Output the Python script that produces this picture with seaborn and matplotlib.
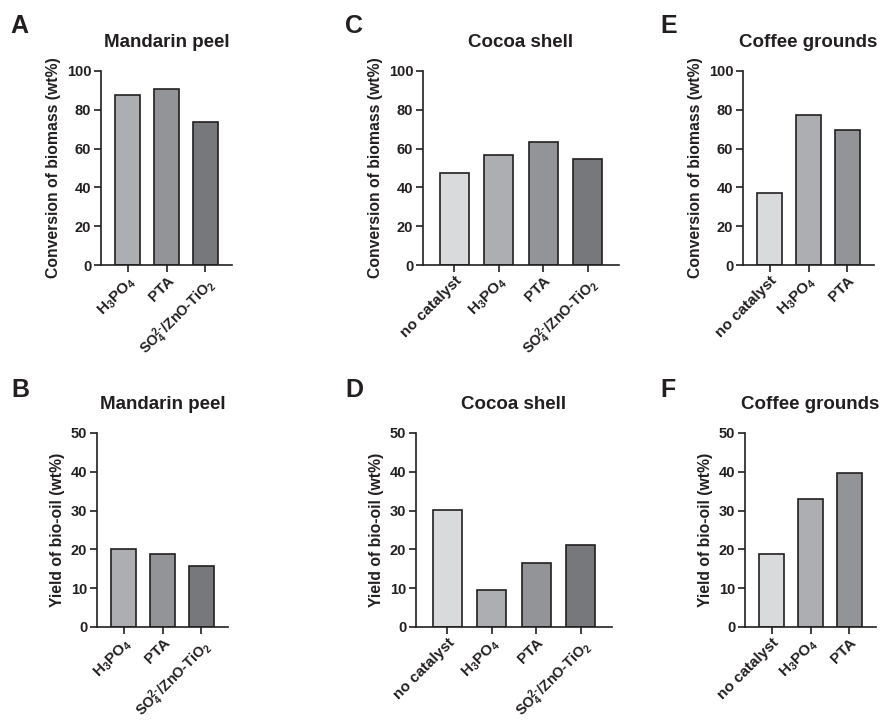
"""Biomass conversion and bio-oil yield by catalyst, six bar panels."""

import matplotlib
matplotlib.use("Agg")
import matplotlib.pyplot as plt
import seaborn as sns

# --- data ---
mandarin_cats = ["H3PO4", "PTA", "SO4/ZnO-TiO2"]
mandarin_conversion = [87.6, 90.5, 73.5]
mandarin_yield = [20.2, 18.7, 15.8]

cocoa_cats = ["no catalyst", "H3PO4", "PTA", "SO4/ZnO-TiO2"]
cocoa_conversion = [47.6, 56.9, 63.6, 54.5]
cocoa_yield = [30.1, 9.6, 16.5, 21.2]

coffee_cats = ["no catalyst", "H3PO4", "PTA"]
coffee_conversion = [37.3, 77.3, 69.7]
coffee_yield = [18.8, 33.1, 39.8]

tick_text = {
    "no catalyst": "no catalyst",
    "H3PO4": r"H$_3$PO$_4$",
    "PTA": "PTA",
    "SO4/ZnO-TiO2": r"SO$_4^{2\text{-}}$/ZnO-TiO$_2$",
}
bar_colors = {
    "no catalyst": "#d9dadc",
    "H3PO4": "#adaeb1",
    "PTA": "#939498",
    "SO4/ZnO-TiO2": "#77787c",
}

INK = "#231f20"
W, H = 880, 721

sns.set_theme(style="ticks")
plt.rcParams["font.family"] = ["Liberation Sans", "DejaVu Sans"]
plt.rcParams["font.weight"] = "bold"
plt.rcParams["mathtext.fontset"] = "custom"
plt.rcParams["mathtext.rm"] = "Liberation Sans"
plt.rcParams["mathtext.default"] = "rm"
plt.rcParams["text.color"] = INK
plt.rcParams["axes.labelcolor"] = INK
plt.rcParams["xtick.color"] = INK
plt.rcParams["ytick.color"] = INK

fig = plt.figure(figsize=(W / 100, H / 100), dpi=100)


def px_axes(left, right, top, bottom):
    return fig.add_axes([left / W, 1 - bottom / H, (right - left) / W, (bottom - top) / H])


def panel(ax, cats, values, title, ylabel, ymax, step):
    sns.barplot(x=cats, y=values, hue=cats, palette=bar_colors, legend=False,
                width=0.65, edgecolor=INK, linewidth=1.2, saturation=1, ax=ax)
    ax.set_xlim(-0.7, len(cats) - 0.3)
    ax.set_ylim(0, ymax)
    ax.set_yticks(range(0, ymax + 1, step))
    ax.set_xticks(range(len(cats)))
    ax.set_xticklabels([tick_text[c] for c in cats], rotation=45, ha="right",
                       rotation_mode="anchor", fontsize=11, fontweight="bold")
    # the long mixed-catalyst label would run off the bottom edge otherwise
    for lab, c in zip(ax.get_xticklabels(), cats):
        if c == "SO4/ZnO-TiO2":
            lab.set_fontsize(10.4)
    for lab in ax.get_yticklabels():
        lab.set_fontsize(10.5)
        lab.set_fontweight("bold")
    ax.tick_params(axis="y", width=1.2, length=5, pad=2)
    ax.tick_params(axis="x", width=1.2, length=5, pad=1.5)
    ax.set_title(title, fontsize=13.5, fontweight="bold", pad=17)
    ax.set_ylabel(ylabel, fontsize=11.3, fontweight="bold", labelpad=4)
    ax.set_xlabel("")
    sns.despine(ax=ax)
    for side in ("left", "bottom"):
        ax.spines[side].set_linewidth(1.2)
        ax.spines[side].set_color(INK)


conv_label = "Conversion of biomass (wt%)"
yield_label = "Yield of bio-oil (wt%)"

ax_a = px_axes(101, 232, 71, 265)
panel(ax_a, mandarin_cats, mandarin_conversion, "Mandarin peel", conv_label, 100, 20)
ax_c = px_axes(423, 619, 71, 265)
panel(ax_c, cocoa_cats, cocoa_conversion, "Cocoa shell", conv_label, 100, 20)
ax_e = px_axes(743, 874, 71, 265)
panel(ax_e, coffee_cats, coffee_conversion, "Coffee grounds", conv_label, 100, 20)

ax_b = px_axes(97, 228, 433, 627)
panel(ax_b, mandarin_cats, mandarin_yield, "Mandarin peel", yield_label, 50, 10)
ax_d = px_axes(416, 612, 433, 627)
panel(ax_d, cocoa_cats, cocoa_yield, "Cocoa shell", yield_label, 50, 10)
ax_f = px_axes(745, 876, 433, 627)
panel(ax_f, coffee_cats, coffee_yield, "Coffee grounds", yield_label, 50, 10)

# panel letters
for letter, x, y in [("A", 10, 33), ("C", 345, 33), ("E", 660, 33),
                     ("B", 11, 397), ("D", 345, 397), ("F", 660, 397)]:
    fig.text(x / W, 1 - y / H, letter, fontsize=18, fontweight="bold",
             va="baseline", ha="left")

fig.savefig("out.png", dpi=100)
